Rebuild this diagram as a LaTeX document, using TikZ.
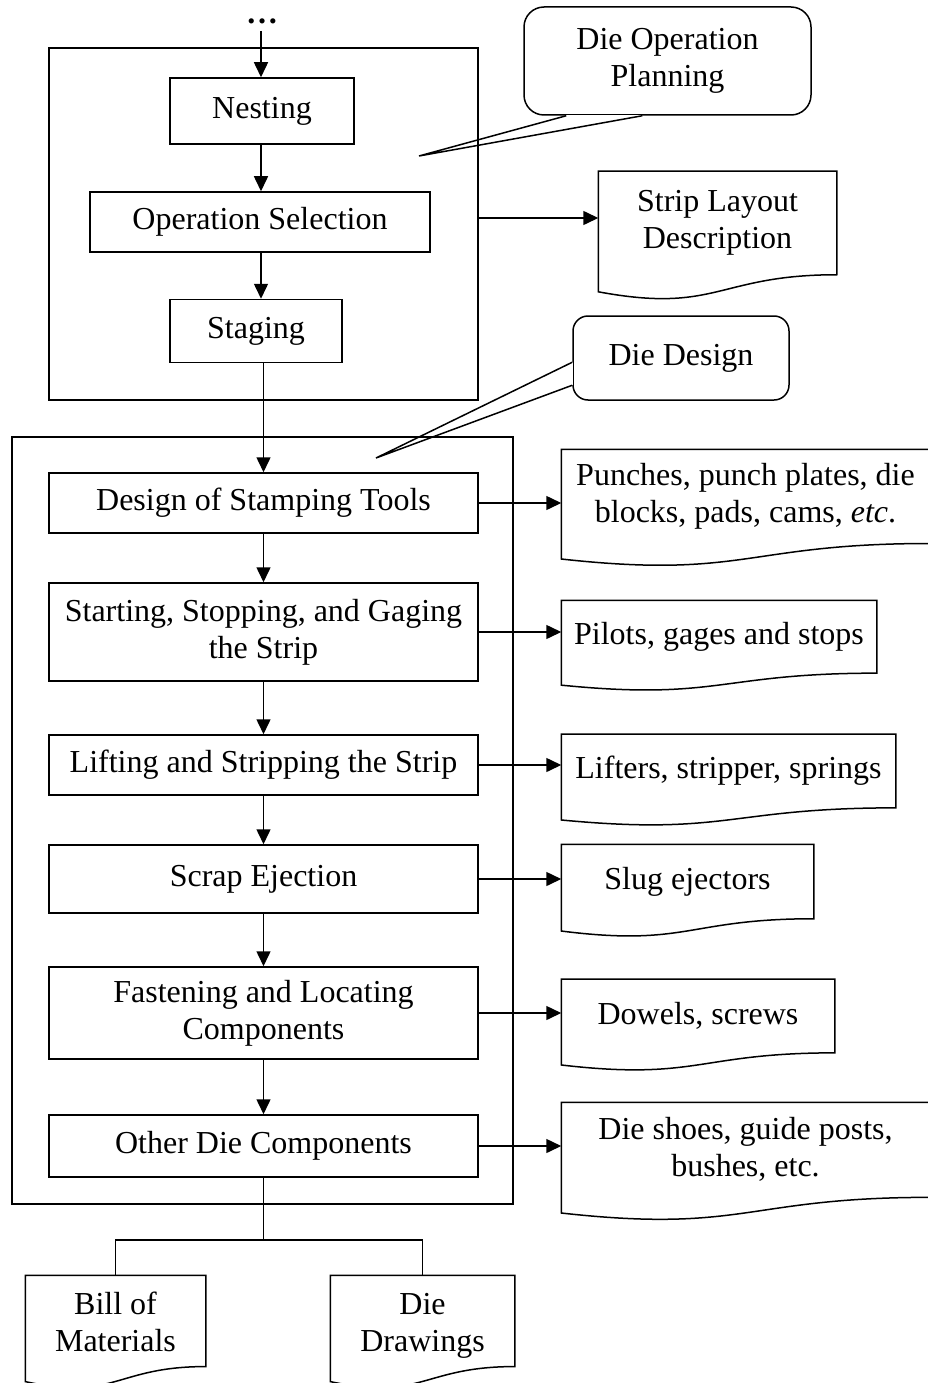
\documentclass[tikz,border=0pt]{standalone}
\usepackage{fontspec}
\setmainfont{Liberation Serif}
\usetikzlibrary{arrows.meta,calc}

% outline of a flowchart "document" shape around a node whose box is the upper text area
\newcommand\docoutline[1]{%
  \draw (#1.north west) -- (#1.north east) -- (#1.south east)
    .. controls (#1.south) and ($(#1.south)!-0.38!(#1.north)$)
    .. ($(#1.south west)!-0.1646!(#1.north west)$) -- cycle;}

\begin{document}
\begin{tikzpicture}[x=1pt,y=-1pt,
  line width=1.5pt,
  every node/.style={inner sep=0pt, align=center,
    font=\fontsize{32}{37}\selectfont},
  stepbox/.style={draw, rectangle},
  groupbox/.style={draw, rectangle},
  docbox/.style={rectangle},
  bubble/.style={draw, rectangle, fill=white},
  arr/.style={-{Triangle[length=15pt,width=14pt]}},
  link/.style={}]

\useasboundingbox (0,0) rectangle (928,1383);
\fill[white] (0,0) rectangle (928,1383);

% ---------- group frames ----------
\node[groupbox, minimum width=429pt, minimum height=352pt] (plan) at (263.5,224) {};
\node[groupbox, minimum width=501pt, minimum height=767pt] (design) at (262.5,820.5) {};

% ---------- operation planning steps ----------
\node[anchor=base] (dots) at (262,24) {\textbf{…}};
\coordinate (entry) at (261,31);
\node[stepbox, minimum width=184pt, minimum height=66pt] (nesting) at (262,111) {Nesting};
\node[stepbox, minimum width=340pt, minimum height=60pt] (opsel) at (260,222) {Operation Selection};
\node[stepbox, minimum width=172pt, minimum height=63pt] (staging) at (256,331) {Staging};

% ---------- die design steps ----------
\node[stepbox, minimum width=429pt, minimum height=60pt] (tools) at (263.5,503) {Design of Stamping Tools};
\node[stepbox, minimum width=429pt, minimum height=98pt] (gaging) at (263.5,632) {Starting, Stopping, and Gaging\\the Strip};
\node[stepbox, minimum width=429pt, minimum height=60pt] (lifting) at (263.5,765) {Lifting and Stripping the Strip};
\node[stepbox, minimum width=429pt, minimum height=68pt] (scrap) at (263.5,879) {Scrap Ejection};
\node[stepbox, minimum width=429pt, minimum height=92pt] (fasten) at (263.5,1013) {Fastening and Locating\\Components};
\node[stepbox, minimum width=429pt, minimum height=62pt] (other) at (263.5,1146) {Other Die Components};

% ---------- output documents ----------
\node[docbox, minimum width=237pt, minimum height=102pt] (strip) at (717.5,223) {Strip Layout\\Description};
\node[docbox, minimum width=367pt, minimum height=92.7pt] (punches) at (745.5,496.4) {Punches, punch plates, die\\blocks, pads, cams, \textit{etc}.};
\node[docbox, minimum width=314pt, minimum height=71.4pt] (pilots) at (719,636.7) {Pilots, gages and stops};
\node[docbox, minimum width=333pt, minimum height=72.2pt] (lifters) at (728.5,771) {Lifters, stripper, springs};
\node[docbox, minimum width=251pt, minimum height=73pt] (slug) at (687.5,881.5) {Slug ejectors};
\node[docbox, minimum width=272pt, minimum height=72.2pt] (dowels) at (698,1016) {Dowels, screws};
\node[docbox, minimum width=367pt, minimum height=93.6pt] (shoes) at (745.5,1149.8) {Die shoes, guide posts,\\bushes, etc.};
\node[docbox, minimum width=179pt, minimum height=89.8pt] (bom) at (115.5,1320.9) {\rule{0pt}{36pt}Bill of\\Materials\strut};
\node[docbox, minimum width=183pt, minimum height=89.8pt] (drawings) at (422.5,1320.9) {\rule{0pt}{36pt}Die\\Drawings\strut};

\foreach \d in {strip,punches,pilots,lifters,slug,dowels,shoes,bom,drawings}{\docoutline{\d}}

% ---------- callouts ----------
\node[bubble, rounded corners=20pt, minimum width=287pt, minimum height=108pt] (dop) at (667.5,61) {Die Operation\\Planning};
\coordinate (dopTip) at (419,156);
\fill[white] ($(dop.south west)+(43,-1.2)$) rectangle ($(dop.south west)+(119,1.2)$);
\draw ($(dop.south west)+(43,0)$) -- (dopTip) -- ($(dop.south west)+(119,0)$);

\node[bubble, rounded corners=15pt, minimum width=216pt, minimum height=84pt] (dd) at (681,358) {Die Design};
\coordinate (ddTip) at (376,458);
\fill[white] ($(dd.north west)+(-1.2,47)$) rectangle ($(dd.north west)+(1.2,70)$);
\draw ($(dd.north west)+(0,47)$) -- (ddTip) -- ($(dd.north west)+(0,70)$);

% ---------- flow connectors ----------
\draw[arr] (entry) -- (entry |- nesting.north);
\draw[arr] (nesting.south -| entry) -- (entry |- opsel.north);
\draw[arr] (opsel.south -| entry) -- (entry |- staging.north);
\draw[arr] (staging.south -| tools.north) -- (tools.north);
\draw[arr] (tools.south) -- (gaging.north);
\draw[arr] (gaging.south) -- (lifting.north);
\draw[arr] (lifting.south) -- (scrap.north);
\draw[arr] (scrap.south) -- (fasten.north);
\draw[arr] (fasten.south) -- (other.north);

\draw[arr] ([yshift=6pt]plan.east) -- ([yshift=6pt]plan.east -| strip.west);
\draw[arr] (tools.east) -- (tools.east -| punches.west);
\draw[arr] (gaging.east) -- (gaging.east -| pilots.west);
\draw[arr] (lifting.east) -- (lifting.east -| lifters.west);
\draw[arr] (scrap.east) -- (scrap.east -| slug.west);
\draw[arr] (fasten.east) -- (fasten.east -| dowels.west);
\draw[arr] (other.east) -- (other.east -| shoes.west);

\coordinate (split) at ($(other.south)+(0,62)$);
\draw[link] (other.south) -- (split);
\draw[link] (bom.north) |- (split) -| (drawings.north);

\end{tikzpicture}
\end{document}
